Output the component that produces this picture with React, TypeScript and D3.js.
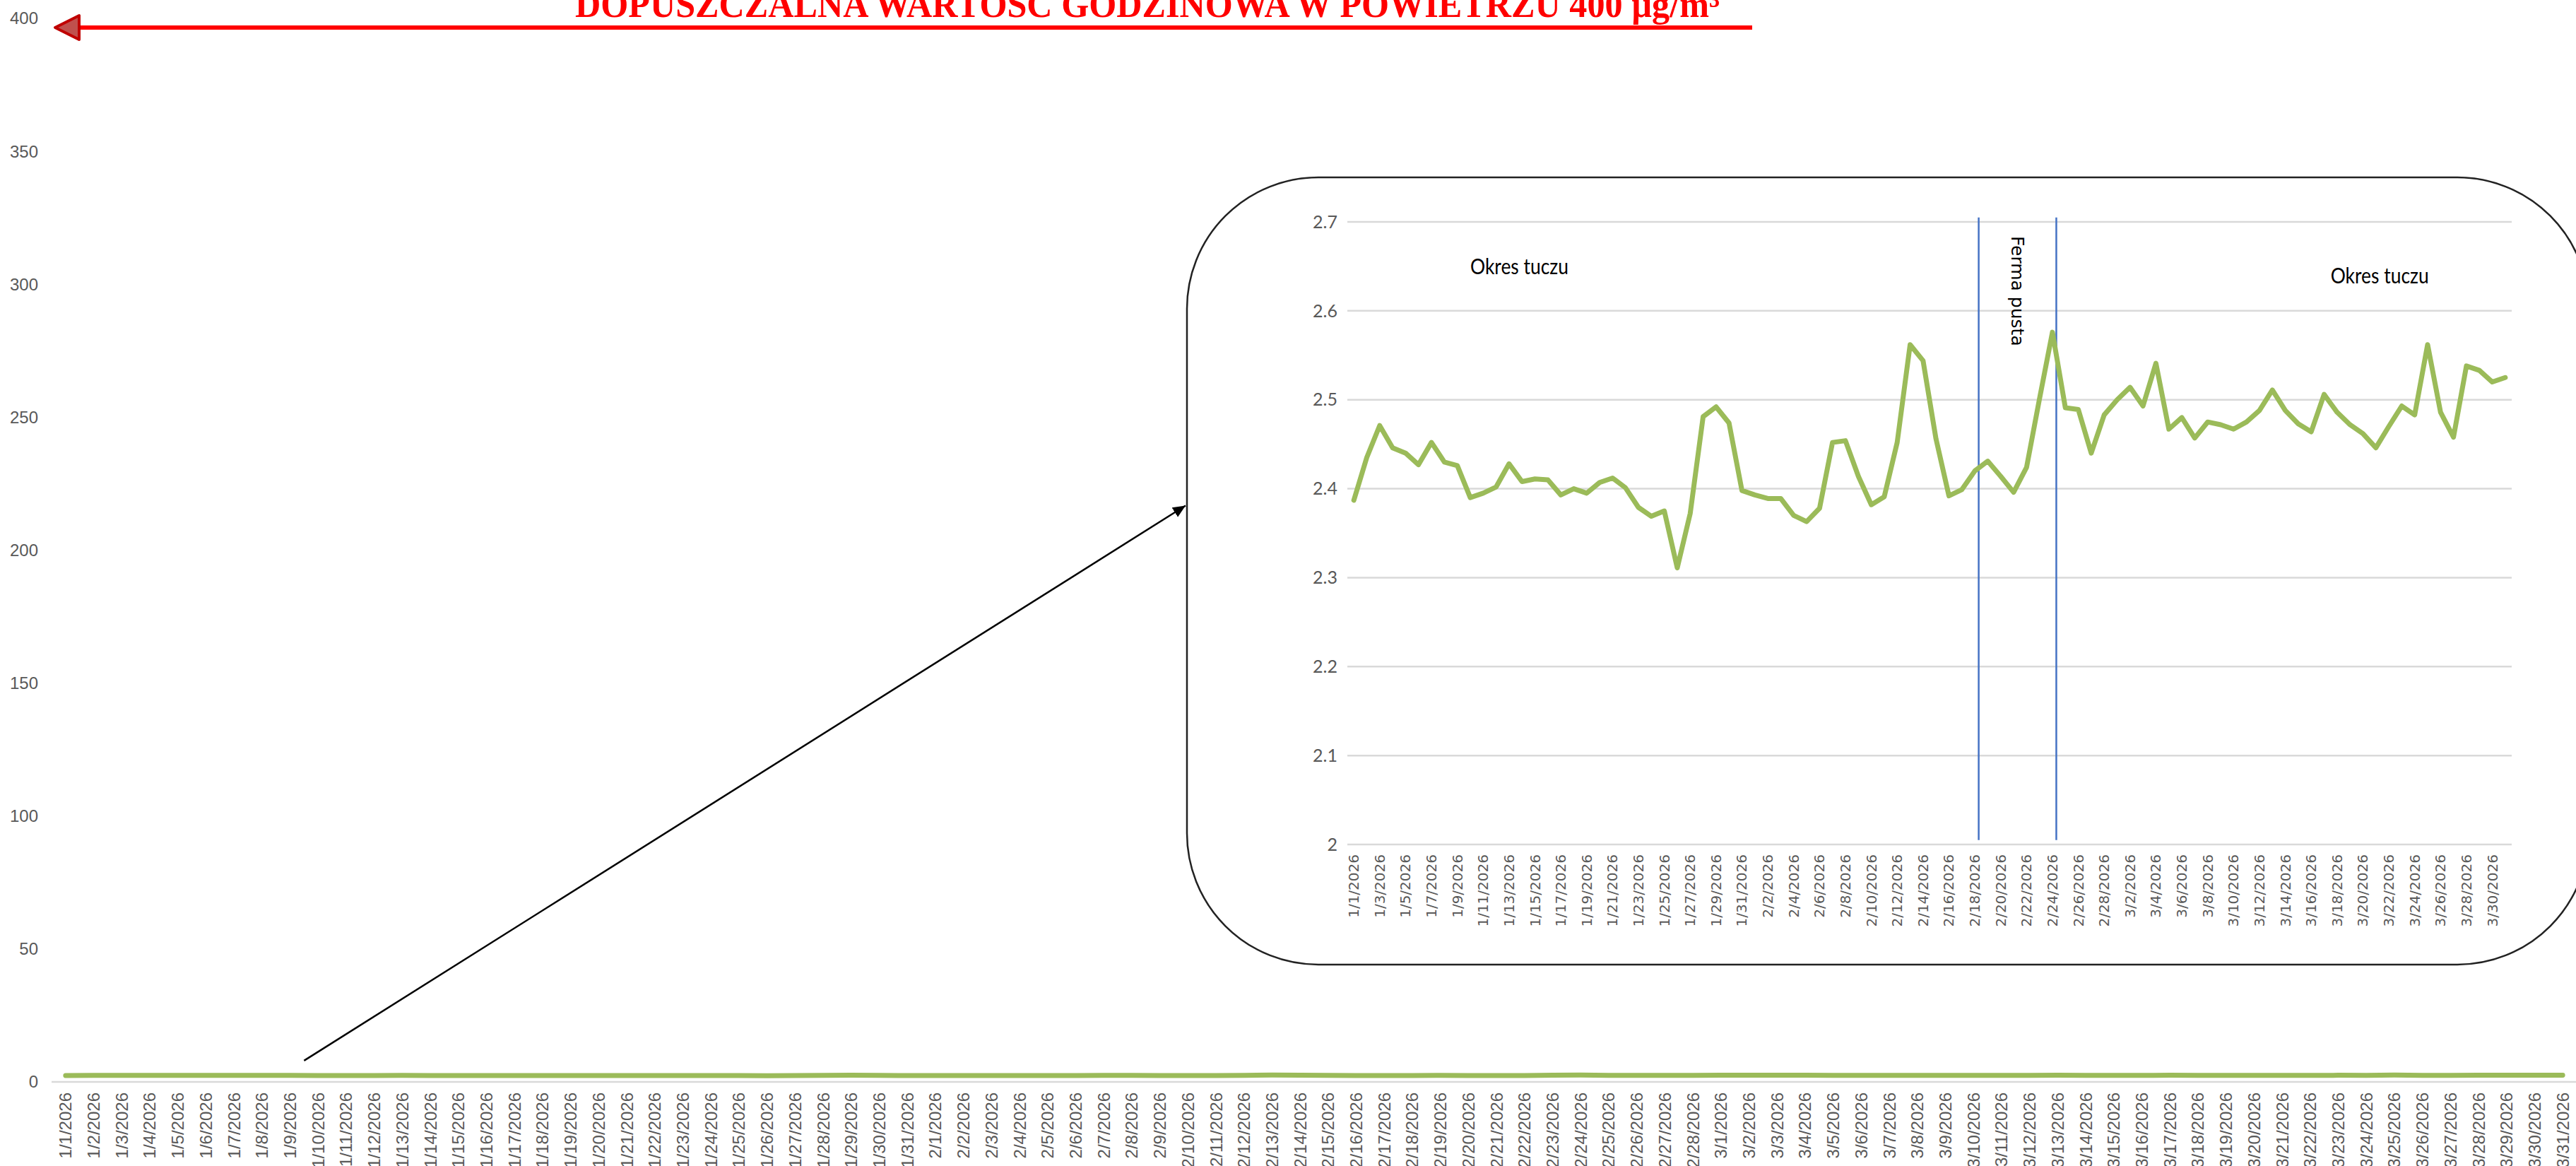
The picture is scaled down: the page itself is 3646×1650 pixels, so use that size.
import React from 'react';
import * as d3 from 'd3';

// daily series, Jan 1 - Mar 31 2026 (value in µg/m³)
const days = d3.timeDay.range(new Date(2026, 0, 1), new Date(2026, 3, 1));
const dateLabels = days.map(d3.timeFormat('%-m/%-d/%Y'));

const values = [
  2.387, 2.435, 2.471, 2.446, 2.440, 2.427, 2.452, 2.430, 2.426, 2.390,
  2.395, 2.402, 2.428, 2.408, 2.411, 2.410, 2.393, 2.400, 2.395, 2.407,
  2.412, 2.401, 2.379, 2.369, 2.375, 2.311, 2.372, 2.481, 2.492, 2.474,
  2.398, 2.393, 2.389, 2.389, 2.370, 2.363, 2.378, 2.452, 2.454, 2.414,
  2.382, 2.391, 2.452, 2.562, 2.544, 2.456, 2.392, 2.399, 2.420, 2.431,
  2.414, 2.396, 2.424, 2.501, 2.576, 2.491, 2.489, 2.440, 2.483, 2.500,
  2.514, 2.493, 2.541, 2.467, 2.480, 2.457, 2.475, 2.472, 2.467, 2.475,
  2.488, 2.511, 2.488, 2.473, 2.464, 2.506, 2.486, 2.472, 2.462, 2.446,
  2.470, 2.493, 2.483, 2.562, 2.486, 2.458, 2.538, 2.533, 2.520, 2.525
];

const mainTicks = [0, 50, 100, 150, 200, 250, 300, 350, 400];
const insetTicks = [2, 2.1, 2.2, 2.3, 2.4, 2.5, 2.6, 2.7];
const limitValue = 400;
const titleText = 'DOPUSZCZALNA WARTOŚĆ GODZINOWA W POWIETRZU 400 µg/m³';
const emptyFarm = ['2/18/2026', '2/24/2026'];
const periodLabels = ['Okres tuczu', 'Okres tuczu'];
const periodDays = ['1/14/2026', '3/21/2026'];

const W = 3646, H = 1650;
const GREEN = '#9BBB59';
const AXIS_TEXT = '#595959';
const GRID = '#D9D9D9';

export default function App() {
  // main chart
  const x = d3.scaleBand().domain(dateLabels).range([73, 3647]);
  const y = d3.scaleLinear().domain([0, 400]).range([1531, 26]);
  const cx = (d: string) => (x(d) as number) + x.bandwidth() / 2;
  const mainLine = d3.line<number>().x((d, i) => cx(dateLabels[i])).y(d => y(d));

  // inset (zoomed) chart
  const box = { x: 1680, y: 251, w: 1984, h: 1114, r: 186 };
  const xi = d3.scaleBand().domain(dateLabels).range([1907, 3555]);
  const yi = d3.scaleLinear().domain([2, 2.7]).range([1195, 314]);
  const cxi = (d: string) => (xi(d) as number) + xi.bandwidth() / 2;
  const insetLine = d3.line<number>().x((d, i) => cxi(dateLabels[i])).y(d => yi(d));
  const farmX = emptyFarm.map(d => cxi(d) + xi.step() * 0.3);

  const limitY = y(limitValue) + 13;
  const arrowStart: [number, number] = [cx(dateLabels[8]) + x.step() / 2, y(8)];
  const arrowEnd: [number, number] = [box.x - 2, yi(2.381)];

  return (
    <svg width={W} height={H} style={{ position: 'absolute', left: 0, top: 0, background: '#fff' }}>
      <defs>
        <marker id="blackHead" markerUnits="userSpaceOnUse" markerWidth="20" markerHeight="16"
                refX="18" refY="8" orient="auto">
          <path d="M0,0 L18,8 L0,16 Z" fill="#000" />
        </marker>
      </defs>

      {/* main chart */}
      <line x1={73} x2={W} y1={y(0)} y2={y(0)} stroke={GRID} strokeWidth={2.5} />
      {mainTicks.map(t => (
        <text key={t} x={54} y={y(t)} dy="0.35em" textAnchor="end" fill={AXIS_TEXT}
              fontFamily="'Liberation Sans', Arial, sans-serif" fontSize={24}>{t}</text>
      ))}
      {dateLabels.map(d => (
        <text key={d} transform={`translate(${cx(d)},1546) rotate(-90)`} textAnchor="end"
              dominantBaseline="central" fill={AXIS_TEXT}
              fontFamily="'Liberation Sans', Arial, sans-serif" fontSize={24}>{d}</text>
      ))}
      <path d={mainLine(values) || ''} fill="none" stroke={GREEN} strokeWidth={7}
            strokeLinecap="round" strokeLinejoin="round" />

      {/* limit line + title */}
      <line x1={112} x2={2480} y1={limitY} y2={limitY} stroke="#FF0000" strokeWidth={6} />
      <path d={`M78,${limitY} L112,${limitY - 17} L112,${limitY + 17} Z`} fill="#C0504D"
            stroke="#C00000" strokeWidth={4} strokeLinejoin="round" />
      <text x={1624} y={24} textAnchor="middle" fill="#FF0000" fontWeight="bold"
            fontFamily="'Liberation Serif', 'Times New Roman', serif" fontSize={52}
            textLength={1620} lengthAdjust="spacingAndGlyphs">{titleText}</text>

      {/* pointer to the zoom */}
      <line x1={arrowStart[0]} y1={arrowStart[1]} x2={arrowEnd[0]} y2={arrowEnd[1]}
            stroke="#000" strokeWidth={2.5} markerEnd="url(#blackHead)" />

      {/* inset */}
      <rect x={box.x} y={box.y} width={box.w} height={box.h} rx={box.r} ry={box.r}
            fill="#fff" stroke="#222" strokeWidth={2.5} />
      {insetTicks.map(t => (
        <g key={t}>
          <line x1={1907} x2={3555} y1={yi(t)} y2={yi(t)} stroke={GRID} strokeWidth={2.5} />
          <text x={1893} y={yi(t)} dy="0.35em" textAnchor="end" fill={AXIS_TEXT}
                fontFamily="Lato, 'Open Sans', sans-serif" fontSize={25}>{t}</text>
        </g>
      ))}
      {dateLabels.filter((d, i) => i % 2 === 0).map(d => (
        <text key={d} transform={`translate(${cxi(d)},1209) rotate(-90)`} textAnchor="end"
              dominantBaseline="central" fill={AXIS_TEXT}
              fontFamily="'DejaVu Sans', Verdana, sans-serif" fontSize={20}>{d}</text>
      ))}
      {farmX.map((fx, i) => (
        <line key={i} x1={fx} x2={fx} y1={yi(2.705)} y2={yi(2.005)} stroke="#4472C4" strokeWidth={2.5} />
      ))}
      <text transform={`translate(${(farmX[0] + farmX[1]) / 2},334) rotate(90)`} textAnchor="start"
            dominantBaseline="central" fill="#000"
            fontFamily="'DejaVu Sans', Verdana, sans-serif" fontSize={25}>Ferma pusta</text>
      {periodLabels.map((p, i) => (
        <text key={i} x={cxi(periodDays[i]) + xi.step() * (i === 0 ? -0.2 : 0.3)} y={i === 0 ? 388 : 401}
              textAnchor="middle" fill="#000" fontFamily="Lato, 'Open Sans', sans-serif"
              fontSize={30} textLength={139} lengthAdjust="spacingAndGlyphs">{p}</text>
      ))}
      <path d={insetLine(values) || ''} fill="none" stroke={GREEN} strokeWidth={7}
            strokeLinejoin="round" strokeLinecap="round" />
    </svg>
  );
}
